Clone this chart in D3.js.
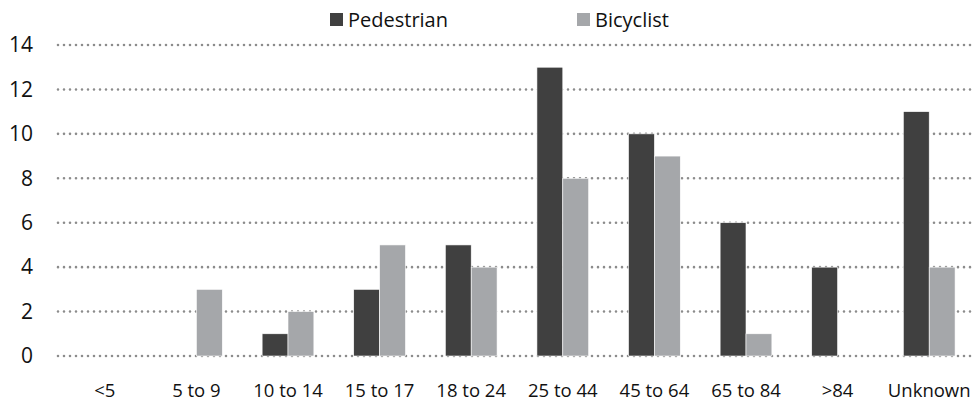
<!DOCTYPE html>
<html lang="en">
<head>
<meta charset="UTF-8">
<title>Pedestrian and Bicyclist by Age</title>
<script src="https://d3js.org/d3.v7.min.js"></script>
<style>
  body { margin: 0; background: #fff; }
  svg { display: block; font-family: "Open Sans", "Noto Sans", sans-serif; }
  .grid line { stroke: #8c8c8c; stroke-width: 2.6; stroke-dasharray: 0 6; stroke-linecap: round; }
  .ylab { font-size: 21px; fill: #111; }
  .xlab { font-size: 18.5px; fill: #111; }
  .legend text { font-size: 20px; fill: #111; }
</style>
</head>
<body>
<script>
const categories = ["<5", "5 to 9", "10 to 14", "15 to 17", "18 to 24", "25 to 44", "45 to 64", "65 to 84", ">84", "Unknown"];
const pedestrian = [0, 0, 1, 3, 5, 13, 10, 6, 4, 11];
const bicyclist = [0, 3, 2, 5, 4, 8, 9, 1, 0, 4];
const yTicks = [0, 2, 4, 6, 8, 10, 12, 14];
const seriesNames = ["Pedestrian", "Bicyclist"];
const colors = ["#404040", "#a5a7aa"];

const width = 975, height = 408;
const margin = {top: 45, right: 0, bottom: 52, left: 59};

const svg = d3.select("body").append("svg")
  .attr("width", width).attr("height", height);

// scales
const x = d3.scaleBand()
  .domain(categories)
  .range([margin.left, width - margin.right])
  .paddingInner(0.435)
  .paddingOuter(0.2175);
const xs = d3.scaleBand().domain(seriesNames).range([0, x.bandwidth()]);
const y = d3.scaleLinear().domain([0, 14]).range([height - margin.bottom, margin.top]);

// dotted gridlines
svg.append("g").attr("class", "grid")
  .selectAll("line").data(yTicks).join("line")
  .attr("x1", 58).attr("x2", width)
  .attr("y1", d => y(d)).attr("y2", d => y(d));

// y labels
svg.append("g").selectAll("text").data(yTicks).join("text")
  .attr("class", "ylab")
  .attr("x", 33).attr("y", d => y(d))
  .attr("dy", "0.35em")
  .attr("text-anchor", "end")
  .text(d => d);

// bars
const rows = categories.map((c, i) => ({cat: c, vals: [pedestrian[i], bicyclist[i]]}));
const groups = svg.append("g").selectAll("g").data(rows).join("g")
  .attr("transform", d => `translate(${x(d.cat)},0)`);
groups.selectAll("rect")
  .data(d => d.vals.map((v, j) => ({name: seriesNames[j], v: v, c: colors[j]})))
  .join("rect")
  .attr("x", d => xs(d.name))
  .attr("width", xs.bandwidth())
  .attr("y", d => y(d.v))
  .attr("height", d => y(0) - y(d.v))
  .attr("fill", d => d.c)
  .attr("stroke", "#fff")
  .attr("stroke-width", 0.6);

// x labels
svg.append("g").selectAll("text").data(categories).join("text")
  .attr("class", "xlab")
  .attr("x", d => x(d) + x.bandwidth() / 2)
  .attr("y", 397)
  .attr("text-anchor", "middle")
  .text(d => d);

// legend
const legend = svg.append("g").attr("class", "legend")
  .selectAll("g").data(seriesNames).join("g")
  .attr("transform", (d, i) => `translate(${i === 0 ? 330 : 577},13)`);
legend.append("rect")
  .attr("width", 13).attr("height", 13)
  .attr("fill", (d, i) => colors[i]);
legend.append("text")
  .attr("x", 18).attr("y", 14)
  .text(d => d);
</script>
</body>
</html>
